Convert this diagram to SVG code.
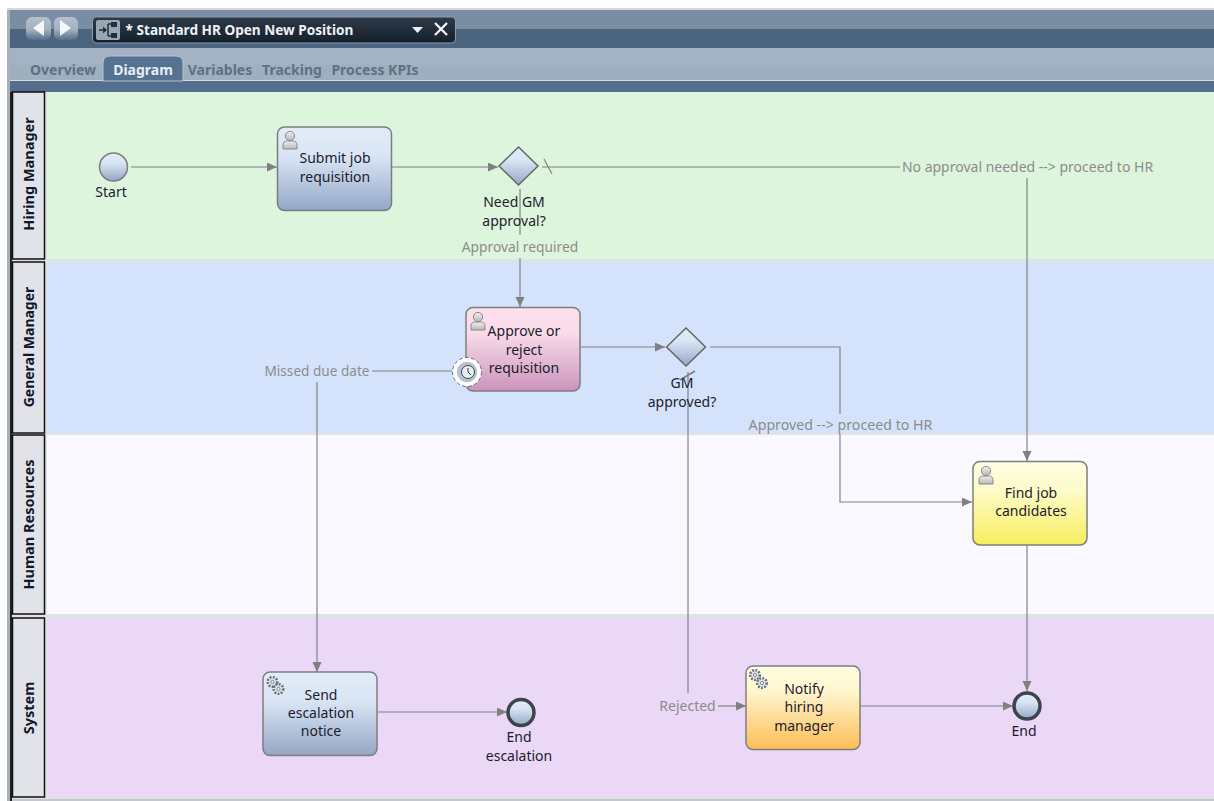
<svg xmlns="http://www.w3.org/2000/svg" width="1214" height="801" viewBox="0 0 1214 801">
<style>
text{font-family:"Noto Sans","Open Sans","DejaVu Sans",sans-serif;font-size:14px;text-anchor:middle;fill:#1c1c2c}
.lane{font-weight:700;font-size:14.500px;fill:#10182c}
.lh{fill:#e1e3e8;stroke:#111;stroke-width:1.500}
.task{stroke:#7d7d7d;stroke-width:1.500}
.gw{fill:url(#gBlue);stroke:#666;stroke-width:1.500}
.con{fill:none;stroke:#808080;stroke-width:1.150}
.lbl{fill:#8c8c8c}
.tab{font-weight:700;font-size:14px;fill:#5f7184}
.ev{fill:url(#gBlue);stroke:#3c444c;stroke-width:3.500}
</style>
<defs>
<marker id="arr" markerUnits="userSpaceOnUse" markerWidth="11" markerHeight="10" refX="10" refY="4.500" orient="auto"><path d="M0 0L10 4.500L0 9Z" fill="#808080"/></marker>
<linearGradient id="gBlue" x1="0" y1="0" x2="0" y2="1"><stop offset="0" stop-color="#e2ecf9"/><stop offset=".35" stop-color="#d9e5f5"/><stop offset="1" stop-color="#94a7c6"/></linearGradient>
<linearGradient id="gPink" x1="0" y1="0" x2="0" y2="1"><stop offset="0" stop-color="#fde0ec"/><stop offset=".3" stop-color="#f9dce9"/><stop offset="1" stop-color="#cb94bd"/></linearGradient>
<linearGradient id="gYellow" x1="0" y1="0" x2="0" y2="1"><stop offset="0" stop-color="#fffde4"/><stop offset=".35" stop-color="#fdfbc8"/><stop offset="1" stop-color="#f8ee5e"/></linearGradient>
<linearGradient id="gOrange" x1="0" y1="0" x2="0" y2="1"><stop offset="0" stop-color="#fffde0"/><stop offset=".3" stop-color="#fff6cf"/><stop offset="1" stop-color="#fdbd55"/></linearGradient>
<linearGradient id="gBar" x1="0" y1="0" x2="0" y2="1"><stop offset="0" stop-color="#2e3a48"/><stop offset="1" stop-color="#14202c"/></linearGradient>
<linearGradient id="gBtn" x1="0" y1="0" x2="0" y2="1"><stop offset="0" stop-color="#b4c0cc"/><stop offset=".55" stop-color="#a3b0be"/><stop offset="1" stop-color="#566f89"/></linearGradient>
<linearGradient id="gUser" x1="0" y1="0" x2="0" y2="1"><stop offset="0" stop-color="#efefef"/><stop offset="1" stop-color="#b8b8b8"/></linearGradient>
<g id="user"><circle cx="0" cy="-4" r="4.600" fill="url(#gUser)" stroke="#8a8a8a"/><path d="M-7 9V5Q-7 1-2.500 1H2.500Q7 1 7 5V9Z" fill="url(#gUser)" stroke="#8a8a8a"/></g>
<g id="gear"><circle r="4.800" fill="#dfe2e8" stroke="#68707c" stroke-width="2.600" stroke-dasharray="1.800 1.400"/><circle r="1.600" fill="#f4f4f4" stroke="#68707c" stroke-width=".8"/></g>
</defs>

<rect width="1214" height="801" fill="#fff"/>
<rect x="7" y="8" width="1207" height="3" fill="#d8d8d8"/>
<rect x="7" y="10" width="3" height="791" fill="#a8b0b8"/>
<rect x="10" y="10" width="1204" height="19" fill="#7a8ea3"/>
<rect x="10" y="29" width="1204" height="19" fill="#4b6580"/>
<rect x="10" y="48" width="1204" height="17" fill="#a3b3c3"/>
<rect x="10" y="65" width="1204" height="15" fill="#9eafbf"/>
<rect x="10" y="80" width="1204" height="1.500" fill="#d4dbe1"/>
<rect x="10" y="81" width="1204" height="11" fill="#546f8b"/>

<rect x="26" y="17" width="25" height="23" rx="6" fill="url(#gBtn)"/>
<rect x="54" y="17" width="24" height="23" rx="6" fill="url(#gBtn)"/>
<path d="M44 20V36L33 28Z M60 20V36L71 28Z" fill="#f4f6f8"/>
<rect x="92.500" y="17" width="363" height="26" rx="4" fill="url(#gBar)" stroke="#8c9cac"/>
<rect x="96" y="20" width="24" height="20" rx="2" fill="#9aa6b2"/>
<path d="M99 30H106M108 24V36M108 24H112M108 36H112" fill="none" stroke="#20303e" stroke-width="1.500"/>
<path d="M103 26.500V33.500L107 30Z" fill="#20303e"/>
<rect x="111" y="22" width="6" height="5" fill="#20303e"/><rect x="111" y="33" width="6" height="5" fill="#20303e"/>
<text x="239.500" y="35" style="font-weight:700;font-size:13.600px;fill:#eef2f6">* Standard HR Open New Position</text>
<path d="M412 27H423L417.500 33Z" fill="#eef2f6"/>
<path d="M435 23L447 35M447 23L435 35" stroke="#f4f6f8" stroke-width="2.400" fill="none"/>

<path d="M103 81V63Q103 56 110 56H176Q183 56 183 63V81Z" fill="#557290" stroke="#b8c4d0"/>
<text class="tab" x="63" y="75">Overview</text>
<text class="tab" x="143" y="75" style="fill:#e6eef4">Diagram</text>
<text class="tab" x="220" y="75">Variables</text>
<text class="tab" x="292" y="75">Tracking</text>
<text class="tab" x="375" y="75">Process KPIs</text>

<rect x="10" y="92" width="1204" height="709" fill="#e0e3e6"/>
<rect x="47" y="92" width="1167" height="167" fill="#dcf5dc"/>
<rect x="47" y="262" width="1167" height="171" fill="#d4e3fb"/>
<rect x="47" y="435" width="1167" height="179" fill="#f9f9ff"/>
<rect x="47" y="618" width="1167" height="179" fill="#ead8f6"/>
<rect x="10" y="799" width="1204" height="2" fill="#c4c8cc"/>
<rect x="10" y="92" width="2" height="709" fill="#222"/>

<g id="lane-hiring"><rect class="lh" x="12.500" y="92" width="32" height="167"/><text class="lane" transform="translate(34 174) rotate(-90)">Hiring Manager</text></g>
<g id="lane-gm"><rect class="lh" x="12.500" y="262" width="32" height="171"/><text class="lane" style="font-size:14px" transform="translate(34 347) rotate(-90)">General Manager</text></g>
<g id="lane-hr"><rect class="lh" x="12.500" y="435" width="32" height="179"/><text class="lane" transform="translate(34 524.500) rotate(-90)">Human Resources</text></g>
<g id="lane-system"><rect class="lh" x="12.500" y="618" width="32" height="179"/><text class="lane" transform="translate(34 708) rotate(-90)">System</text></g>

<g id="connectors">
<path class="con" marker-end="url(#arr)" d="M131 167H277"/>
<path class="con" marker-end="url(#arr)" d="M392 167H498"/>
<path class="con" d="M542 167H900M544 159L552 174"/>
<path class="con" marker-end="url(#arr)" d="M1027 178V461"/>
<path class="con" d="M520 189V235"/>
<path class="con" marker-end="url(#arr)" d="M520 258V307"/>
<path class="con" marker-end="url(#arr)" d="M580 347H665"/>
<path class="con" d="M710 347H840V414"/>
<path class="con" marker-end="url(#arr)" d="M840 434V502H972"/>
<path class="con" marker-end="url(#arr)" d="M1027 545V691"/>
<path class="con" marker-end="url(#arr)" d="M860 706H1013"/>
<path class="con" marker-end="url(#arr)" d="M718 706H746"/>
<path class="con" d="M688 693V372"/>
<path class="con" style="stroke-width:2" d="M680 380L695 371"/>
<path class="con" marker-end="url(#arr)" d="M377 712H507"/>
<path class="con" d="M372 371H452"/>
<path class="con" marker-end="url(#arr)" d="M317 382V672"/>
<text class="lbl" x="1027.500" y="172">No approval needed --&gt; proceed to HR</text>
<text class="lbl" x="520" y="252" style="font-size:13.800px">Approval required</text>
<text class="lbl" x="840.500" y="430" style="font-size:14.200px">Approved --&gt; proceed to HR</text>
<text class="lbl" x="317" y="376" style="font-size:13.600px">Missed due date</text>
<text class="lbl" x="687.500" y="711">Rejected</text>
</g>

<g id="start"><circle cx="113.500" cy="167" r="14" fill="url(#gBlue)" stroke="#7d7d7d" stroke-width="1.500"/><text x="111" y="197">Start</text></g>
<g id="submit"><rect class="task" x="277.500" y="127" width="114" height="83.500" rx="7" fill="url(#gBlue)"/><use href="#user" x="290" y="140"/><text x="335" y="163">Submit job</text><text x="335" y="182">requisition</text></g>
<g id="need-gm"><path class="gw" d="M518.500 147L538 166L518.500 185L499 166Z"/><text x="514" y="207">Need GM</text><text x="514" y="226">approval?</text></g>
<g id="approve"><rect class="task" x="466" y="307.500" width="114" height="83.500" rx="7" fill="url(#gPink)"/><use href="#user" x="478" y="321"/><text x="524" y="336">Approve or</text><text x="524" y="355">reject</text><text x="524" y="373">requisition</text></g>
<g id="timer"><circle cx="467" cy="372" r="14.500" fill="#fff" stroke="#666" stroke-dasharray="3.500 2.500"/><circle cx="467" cy="372" r="11" fill="#b4c2d2" stroke="#fff" stroke-width="1.500"/><circle cx="468" cy="372" r="6.500" fill="#e8edf3" stroke="#444"/><path d="M468 368V372L471 375" fill="none" stroke="#333"/></g>
<g id="gm-approved"><path class="gw" d="M686 328L705.500 347L686 366L666.500 347Z"/><text x="682" y="388">GM</text><text x="682" y="407">approved?</text></g>
<g id="find"><rect class="task" x="973" y="461.500" width="114" height="83.500" rx="7" fill="url(#gYellow)"/><use href="#user" x="986" y="475"/><text x="1031" y="498">Find job</text><text x="1031" y="516">candidates</text></g>
<g id="send"><rect class="task" x="263" y="672" width="114" height="83.500" rx="7" fill="url(#gBlue)"/><use href="#gear" x="272.500" y="682"/><use href="#gear" x="278.500" y="689"/><text x="321" y="700">Send</text><text x="321" y="718">escalation</text><text x="321" y="736">notice</text></g>
<g id="end-escalation"><circle class="ev" cx="521" cy="712.500" r="13"/><text x="519" y="742">End</text><text x="519" y="761">escalation</text></g>
<g id="notify"><rect class="task" x="746" y="666" width="114" height="83.500" rx="7" fill="url(#gOrange)"/><use href="#gear" x="755" y="675"/><use href="#gear" x="762" y="683"/><text x="804" y="694">Notify</text><text x="804" y="712">hiring</text><text x="804" y="731">manager</text></g>
<g id="end"><circle class="ev" cx="1027" cy="706" r="13"/><text x="1024" y="736">End</text></g>
</svg>
